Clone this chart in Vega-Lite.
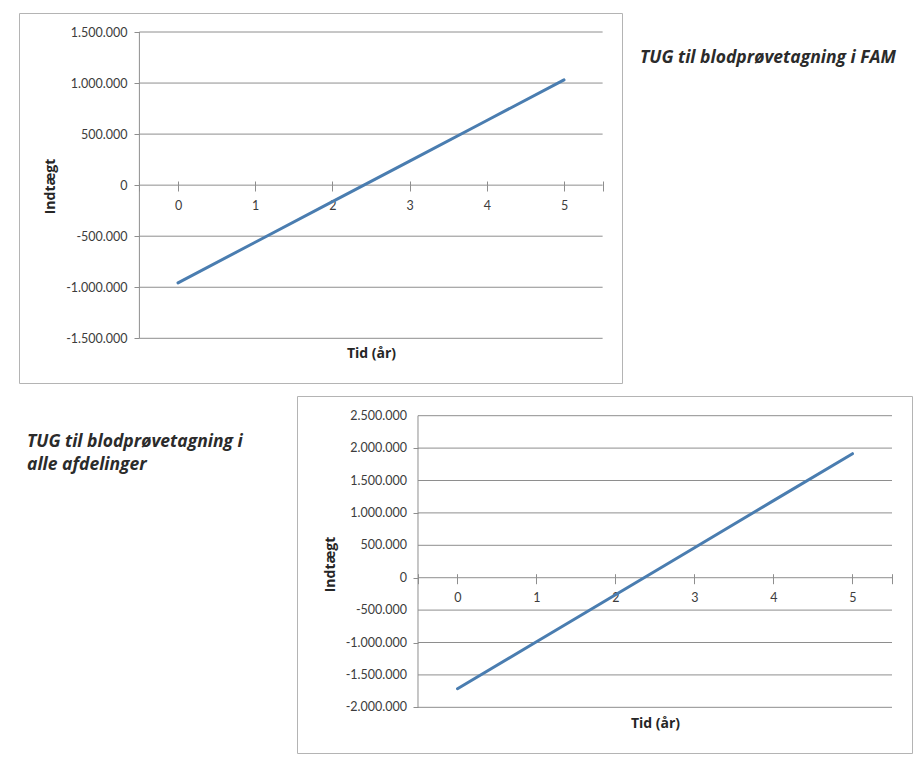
{
  "$schema": "https://vega.github.io/schema/vega-lite/v6.json",
  "background": "white",
  "padding": {"left": 18, "top": 12, "right": 2, "bottom": 2},
  "spacing": 11,
  "config": {
    "font": "Lato",
    "locale": {"number": {"decimal": ",", "thousands": ".", "grouping": [3], "currency": ["", " kr."], "minus": "-"}},
    "view": {"stroke": null},
    "concat": {"spacing": 0},
    "axis": {"labelOverlap": false}
  },
  "datasets": {
    "fam": [
      {"t": 0, "v": -957000},
      {"t": 1, "v": -559000},
      {"t": 2, "v": -162000},
      {"t": 3, "v": 236000},
      {"t": 4, "v": 633000},
      {"t": 5, "v": 1031000}
    ],
    "alle": [
      {"t": 0, "v": -1713000},
      {"t": 1, "v": -988000},
      {"t": 2, "v": -262000},
      {"t": 3, "v": 463000},
      {"t": 4, "v": 1189000},
      {"t": 5, "v": 1914000}
    ],
    "grid1": [
      {"g": -1500000}, {"g": -1000000}, {"g": -500000}, {"g": 0},
      {"g": 500000}, {"g": 1000000}, {"g": 1500000}
    ],
    "grid2": [
      {"g": -2000000}, {"g": -1500000}, {"g": -1000000}, {"g": -500000}, {"g": 0},
      {"g": 500000}, {"g": 1000000}, {"g": 1500000}, {"g": 2000000}, {"g": 2500000}
    ]
  },
  "vconcat": [
    {
      "spacing": 17,
      "hconcat": [
        {
          "width": 603,
          "height": 370,
          "view": {"stroke": "#b4b4b4", "strokeWidth": 1, "fill": "white"},
          "layer": [
            {
              "data": {"name": "grid1"},
              "mark": {"type": "rule", "color": "#8e8e8e", "strokeWidth": 1},
              "encoding": {
                "y": {
                  "field": "g", "type": "quantitative",
                  "scale": {"domain": [-1937800, 1686100], "nice": false, "zero": false},
                  "axis": {
                    "title": "Indtægt", "offset": -120,
                    "values": [-1500000, -1000000, -500000, 0, 500000, 1000000, 1500000], "format": ",d",
                    "domain": false, "grid": false, "tickColor": "#8e8e8e", "tickSize": 5,
                    "labelPadding": 7, "labelFontSize": 12.5, "labelColor": "#3c3c3c", "labelFont": "Lato",
                    "labelOverlap": false, "labelSeparation": 0,
                    "titleFontSize": 14, "titleFontWeight": "bold", "titleColor": "#262626", "titleFont": "Open Sans",
                    "titlePadding": 8, "titleY": 173
                  }
                },
                "x": {
                  "datum": -0.5, "type": "quantitative",
                  "scale": {"domain": [-2.0596, 5.751], "nice": false, "zero": false},
                  "axis": {
                    "title": "Tid (år)", "offset": -202, "values": [-0.5, 0, 1, 2, 3, 4, 5, 5.5], "format": "d",
                    "labelExpr": "datum.value < 0 || datum.value > 5 ? '' : datum.label",
                    "domain": false, "grid": false, "tickColor": "#8e8e8e", "tickSize": 10,
                    "labelPadding": 8, "labelFontSize": 12.5, "labelColor": "#3c3c3c", "labelFont": "Lato",
                    "titleFontSize": 14, "titleFontWeight": "bold", "titleColor": "#262626", "titleFont": "Open Sans",
                    "titleX": 352, "titleY": 172, "titleBaseline": "middle", "labelOverlap": false, "labelFlush": false
                  }
                },
                "x2": {"datum": 5.5}
              }
            },
            {
              "data": {"values": [{}]},
              "mark": {"type": "rule", "color": "#8e8e8e", "strokeWidth": 1},
              "encoding": {
                "x": {"datum": -0.5, "type": "quantitative", "scale": {"domain": [-2.0596, 5.751], "nice": false, "zero": false}},
                "y": {"datum": -1500000, "type": "quantitative", "scale": {"domain": [-1937800, 1686100], "nice": false, "zero": false}},
                "y2": {"datum": 1500000}
              }
            },
            {
              "data": {"name": "fam"},
              "mark": {"type": "line", "color": "#4a7db0", "strokeWidth": 3, "strokeCap": "round"},
              "encoding": {
                "x": {"field": "t", "type": "quantitative", "scale": {"domain": [-2.0596, 5.751], "nice": false, "zero": false}},
                "y": {"field": "v", "type": "quantitative", "scale": {"domain": [-1937800, 1686100], "nice": false, "zero": false}}
              }
            }
          ]
        },
        {
          "width": 270,
          "height": 36,
          "data": {"values": []},
          "mark": "point",
          "view": {"stroke": null},
          "title": {
            "text": "TUG til blodprøvetagning i FAM",
            "orient": "bottom", "anchor": "start", "frame": "group", "offset": 0,
            "font": "Open Sans", "fontSize": 17.5, "fontStyle": "italic", "fontWeight": "bold",
            "color": "#2b2b2b", "baseline": "top"
          }
        }
      ]
    },
    {
      "spacing": 0,
      "hconcat": [
        {
          "width": 277,
          "height": 37,
          "data": {"values": []},
          "mark": "point",
          "view": {"stroke": null},
          "title": {
            "text": ["TUG til blodprøvetagning i", "alle afdelinger"],
            "orient": "bottom", "anchor": "start", "frame": "group", "offset": 0, "dx": 8,
            "font": "Open Sans", "fontSize": 17.5, "fontStyle": "italic", "fontWeight": "bold",
            "color": "#2b2b2b", "baseline": "top", "lineHeight": 23
          }
        },
        {
          "width": 615,
          "height": 357,
          "view": {"stroke": "#b4b4b4", "strokeWidth": 1, "fill": "white"},
          "layer": [
            {
              "data": {"name": "grid2"},
              "mark": {"type": "rule", "color": "#8e8e8e", "strokeWidth": 1},
              "encoding": {
                "y": {
                  "field": "g", "type": "quantitative",
                  "scale": {"domain": [-2705000, 2804000], "nice": false, "zero": false},
                  "axis": {
                    "title": "Indtægt", "offset": -121,
                    "values": [-2000000, -1500000, -1000000, -500000, 0, 500000, 1000000, 1500000, 2000000, 2500000],
                    "labels": false,
                    "domain": false, "grid": false, "tickColor": "#8e8e8e", "tickSize": 5,
                    "titleFontSize": 14, "titleFontWeight": "bold", "titleColor": "#262626", "titleFont": "Open Sans",
                    "titlePadding": 75, "titleY": 168
                  }
                },
                "x": {
                  "datum": -0.5, "type": "quantitative",
                  "scale": {"domain": [-2.0316, 5.7532], "nice": false, "zero": false},
                  "axis": {
                    "title": "Tid (år)", "offset": -179.3, "values": [-0.5, 0, 1, 2, 3, 4, 5, 5.5], "format": "d",
                    "labelExpr": "datum.value < 0 || datum.value > 5 ? '' : datum.label",
                    "domain": false, "grid": false, "tickColor": "#8e8e8e", "tickSize": 10,
                    "labelPadding": 8, "labelFontSize": 12.5, "labelColor": "#3c3c3c", "labelFont": "Lato",
                    "titleFontSize": 14, "titleFontWeight": "bold", "titleColor": "#262626", "titleFont": "Open Sans",
                    "titleX": 358, "titleY": 150, "titleBaseline": "middle", "labelOverlap": false, "labelFlush": false
                  }
                },
                "x2": {"datum": 5.5}
              }
            },
            {
              "data": {"name": "grid2"},
              "mark": {"type": "text", "align": "right", "baseline": "middle", "dx": -11, "font": "Lato", "fontSize": 12.5, "color": "#3c3c3c"},
              "encoding": {
                "y": {"field": "g", "type": "quantitative", "scale": {"domain": [-2705000, 2804000], "nice": false, "zero": false}},
                "x": {"datum": -0.5, "type": "quantitative", "scale": {"domain": [-2.0316, 5.7532], "nice": false, "zero": false}},
                "text": {"field": "g", "type": "quantitative", "format": ",d"}
              }
            },
            {
              "data": {"values": [{}]},
              "mark": {"type": "rule", "color": "#8e8e8e", "strokeWidth": 1},
              "encoding": {
                "x": {"datum": -0.5, "type": "quantitative", "scale": {"domain": [-2.0316, 5.7532], "nice": false, "zero": false}},
                "y": {"datum": -2000000, "type": "quantitative", "scale": {"domain": [-2705000, 2804000], "nice": false, "zero": false}},
                "y2": {"datum": 2500000}
              }
            },
            {
              "data": {"name": "alle"},
              "mark": {"type": "line", "color": "#4a7db0", "strokeWidth": 3, "strokeCap": "round"},
              "encoding": {
                "x": {"field": "t", "type": "quantitative", "scale": {"domain": [-2.0316, 5.7532], "nice": false, "zero": false}},
                "y": {"field": "v", "type": "quantitative", "scale": {"domain": [-2705000, 2804000], "nice": false, "zero": false}}
              }
            }
          ]
        }
      ]
    }
  ]
}
